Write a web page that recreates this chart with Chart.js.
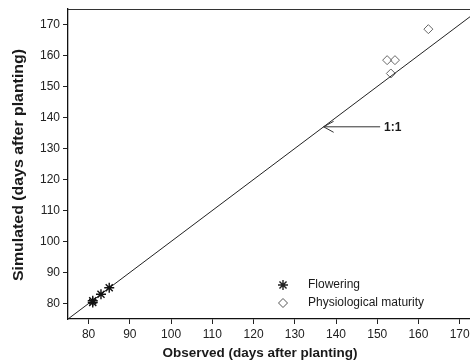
<!DOCTYPE html>
<html>
<head>
<meta charset="utf-8">
<script src="https://cdn.jsdelivr.net/npm/chart.js@4"></script>
<style>
  html, body { margin: 0; padding: 0; background: #fff; }
  #wrap { width: 470px; height: 364px; position: relative; }
</style>
</head>
<body>
<div id="wrap"><canvas id="c" width="470" height="364"></canvas></div>
<script>
// Observed vs simulated phenology (days after planting)
const floweringObserved  = [81.0, 81.0, 83.0, 85.0];
const floweringSimulated = [80.3, 80.9, 83.0, 85.1];
const maturityObserved   = [152.4, 154.3, 153.3, 162.4];
const maturitySimulated  = [158.5, 158.5, 154.2, 168.5];
const oneToOne           = [75, 175];
const xTickValues = [80, 90, 100, 110, 120, 130, 140, 150, 160, 170];
const yTickValues = [80, 90, 100, 110, 120, 130, 140, 150, 160, 170];
const seriesNames = ['Flowering', 'Physiological maturity'];
const xTitle = 'Observed (days after planting)';
const yTitle = 'Simulated (days after planting)';
const lineLabel = '1:1';
const arrowAt = 137;      // point on the 1:1 line the arrow points to
const arrowTailX = 150.7; // where the arrow's tail (and the label) sits

const FONT = '"Liberation Sans", Arial, Helvetica, sans-serif';
const INK = '#1a1a1a';

function toPoints(xs, ys) { return xs.map((x, i) => ({ x: x, y: ys[i] })); }

function drawStar(ctx, x, y, r) {
  ctx.beginPath();
  for (let k = 0; k < 4; k++) {
    const a = k * Math.PI / 4;
    ctx.moveTo(x - r * Math.cos(a), y - r * Math.sin(a));
    ctx.lineTo(x + r * Math.cos(a), y + r * Math.sin(a));
  }
  ctx.stroke();
}
function drawDiamond(ctx, x, y, r) {
  ctx.beginPath();
  ctx.moveTo(x, y - r);
  ctx.lineTo(x + r, y);
  ctx.lineTo(x, y + r);
  ctx.lineTo(x - r, y);
  ctx.closePath();
  ctx.stroke();
}

const decorations = {
  id: 'decorations',
  afterDraw(chart) {
    const ctx = chart.ctx;
    const a = chart.chartArea;
    const xs = chart.scales.x, ys = chart.scales.y;
    ctx.save();

    // top frame line
    ctx.strokeStyle = '#333';
    ctx.lineWidth = 1.2;
    ctx.beginPath();
    ctx.moveTo(a.left, a.top + 0.5);
    ctx.lineTo(a.right, a.top + 0.5);
    ctx.stroke();

    // arrow pointing at the 1:1 line
    const tipX = xs.getPixelForValue(arrowAt);
    const tipY = ys.getPixelForValue(arrowAt);
    const tailX = xs.getPixelForValue(arrowTailX);
    ctx.strokeStyle = '#333';
    ctx.lineWidth = 1;
    ctx.beginPath();
    ctx.moveTo(tipX, tipY);
    ctx.lineTo(tailX, tipY);
    ctx.moveTo(tipX + 10, tipY - 5.5);
    ctx.lineTo(tipX, tipY);
    ctx.lineTo(tipX + 10, tipY + 5.5);
    ctx.stroke();
    ctx.fillStyle = INK;
    ctx.font = 'bold 12px ' + FONT;
    ctx.textAlign = 'left';
    ctx.textBaseline = 'middle';
    ctx.fillText(lineLabel, tailX + 4, tipY + 1);

    // legend
    ctx.font = '12px ' + FONT;
    ctx.fillStyle = INK;
    ctx.strokeStyle = '#222';
    ctx.lineWidth = 1.4;
    drawStar(ctx, 283, 285, 5);
    ctx.fillText(seriesNames[0], 308, 285);
    ctx.strokeStyle = '#555';
    ctx.lineWidth = 1;
    drawDiamond(ctx, 283, 303, 4.5);
    ctx.fillText(seriesNames[1], 308, 303);

    // axis titles
    ctx.fillStyle = INK;
    ctx.font = 'bold 13.5px ' + FONT;
    ctx.textAlign = 'center';
    ctx.textBaseline = 'middle';
    ctx.fillText(xTitle, 260, 353);

    ctx.font = 'bold 14px ' + FONT;
    const w = ctx.measureText(yTitle).width;
    ctx.translate(19, 165);
    ctx.rotate(-Math.PI / 2);
    ctx.scale(232 / w, 1);
    ctx.fillText(yTitle, 0, 0);
    ctx.restore();
  }
};

const axisCommon = {
  type: 'linear',
  grid: {
    display: true,
    drawOnChartArea: false,
    drawTicks: true,
    tickLength: 5,
    tickWidth: 1,
    tickColor: '#222'
  },
  border: { display: true, color: '#111', width: 1.3 },
  ticks: {
    color: '#222',
    font: { family: FONT, size: 12 },
    autoSkip: false,
    maxRotation: 0,
    padding: 3
  }
};

new Chart(document.getElementById('c'), {
  type: 'scatter',
  data: {
    datasets: [
      {
        label: seriesNames[0],
        data: toPoints(floweringObserved, floweringSimulated),
        pointStyle: 'star',
        radius: 5,
        borderColor: '#111',
        backgroundColor: '#111',
        borderWidth: 1.4,
        showLine: false
      },
      {
        label: seriesNames[1],
        data: toPoints(maturityObserved, maturitySimulated),
        pointStyle: 'rectRot',
        radius: 4.5,
        borderColor: '#666',
        backgroundColor: 'rgba(0,0,0,0)',
        borderWidth: 1,
        showLine: false
      },
      {
        label: lineLabel,
        type: 'line',
        data: toPoints(oneToOne, oneToOne),
        borderColor: '#222',
        borderWidth: 1,
        pointRadius: 0,
        fill: false
      }
    ]
  },
  options: {
    responsive: false,
    animation: false,
    events: [],
    layout: { autoPadding: false, padding: { top: 9, right: 0, left: 0, bottom: 0 } },
    plugins: { legend: { display: false }, tooltip: { enabled: false } },
    scales: {
      x: Object.assign({}, axisCommon, {
        min: 75, max: 172.5,
        afterBuildTicks(s) { s.ticks = xTickValues.map(v => ({ value: v })); },
        afterFit(s) { s.height = 45; s.paddingLeft = 0; s.paddingRight = 0; }
      }),
      y: Object.assign({}, axisCommon, {
        min: 75, max: 175,
        afterBuildTicks(s) { s.ticks = yTickValues.map(v => ({ value: v })); },
        afterFit(s) { s.width = 68; s.paddingTop = 0; s.paddingBottom = 0; }
      })
    }
  },
  plugins: [decorations]
});
</script>
</body>
</html>
